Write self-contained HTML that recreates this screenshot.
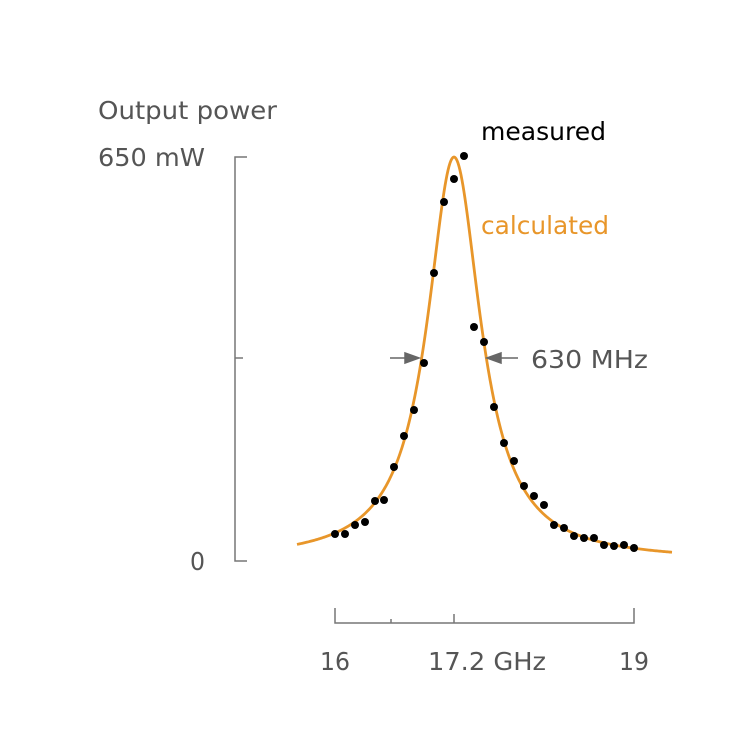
<!DOCTYPE html>
<html><head><meta charset="utf-8"><style>
html,body{margin:0;padding:0;background:#fff;width:750px;height:750px;overflow:hidden}
text{font-family:"DejaVu Sans","Liberation Sans",sans-serif;font-size:25px}
</style></head><body>
<svg width="750" height="750" viewBox="0 0 750 750" xmlns="http://www.w3.org/2000/svg">
<g fill="none" stroke="#777" stroke-width="1.5">
<path d="M247,157 H235 V561 H247"/>
<path d="M235,358 H243"/>
<path d="M335,608 V623 H634 V608"/>
<path d="M454,623 V614 M391,623 V619"/>
</g>
<path id="c" fill="none" stroke="#E8962A" stroke-width="2.8" d=""/>
<g fill="#000" id="dots"></g>
<g stroke="#666" stroke-width="1.5" fill="#666">
<line x1="390" y1="358" x2="408" y2="358"/>
<polygon points="419,358 405,353 405,363"/>
<line x1="499" y1="358" x2="518" y2="358"/>
<polygon points="487,358 501,353 501,363"/>
</g>
<g fill="#555">
<text x="98" y="119" textLength="179" lengthAdjust="spacingAndGlyphs">Output power</text>
<text x="98" y="166" textLength="107" lengthAdjust="spacingAndGlyphs">650 mW</text>
<text x="190" y="570" textLength="15" lengthAdjust="spacingAndGlyphs">0</text>
<text x="531" y="368" textLength="117" lengthAdjust="spacingAndGlyphs">630 MHz</text>
<text x="320" y="670" textLength="30" lengthAdjust="spacingAndGlyphs">16</text>
<text x="428" y="670" textLength="118" lengthAdjust="spacingAndGlyphs">17.2 GHz</text>
<text x="619" y="670" textLength="30" lengthAdjust="spacingAndGlyphs">19</text>
</g>
<text x="481" y="140" fill="#000" textLength="125" lengthAdjust="spacingAndGlyphs">measured</text>
<text x="481" y="234" fill="#E8962A" textLength="128" lengthAdjust="spacingAndGlyphs">calculated</text>
</svg>
<script>
var d="";for(var x=297;x<=672;x+=1){var u=(x-454)/32.5;var y=561-404/(1+u*u);d+=(x==297?"M":"L")+x+","+y.toFixed(2);}
document.getElementById("c").setAttribute("d",d);
var pts=[[335,534],[345,534],[355,525],[365,522],[375,501],[384,500],[394,467],[404,436],[414,410],[424,363],[434,273],[444,202],[454,179],[464,156],[474,327],[484,342],[494,407],[504,443],[514,461],[524,486],[534,496],[544,505],[554,525],[564,528],[574,536],[584,538],[594,538],[604,545],[614,546],[624,545],[634,548]];
var g=document.getElementById("dots"),s="";pts.forEach(function(p){s+='<circle cx="'+p[0]+'" cy="'+p[1]+'" r="4"/>';});g.innerHTML=s;
</script>
</body></html>
